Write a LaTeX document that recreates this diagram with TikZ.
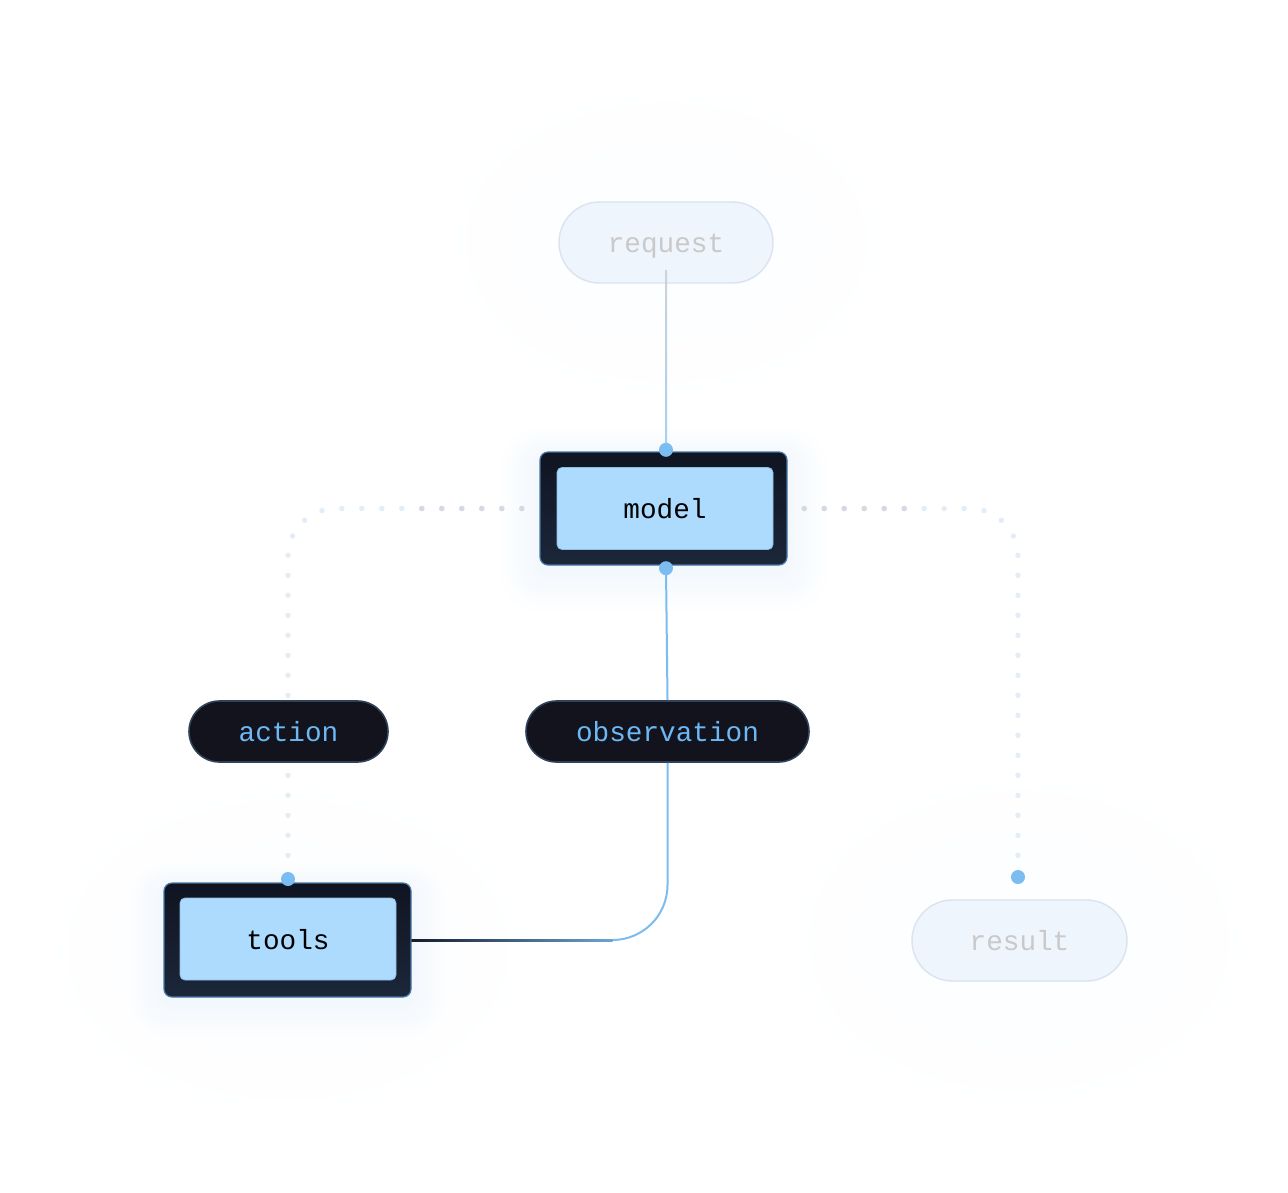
\documentclass[tikz,border=0pt]{standalone}
\usepackage{fontspec}
\setmonofont{Liberation Mono}
\usetikzlibrary{calc}
\definecolor{boxdark}{HTML}{141B2B}
\definecolor{boxtop}{HTML}{0F1421}
\definecolor{boxbot}{HTML}{1C273A}
\definecolor{boxedge}{HTML}{4576A6}
\definecolor{innerblue}{HTML}{ADDBFE}
\definecolor{innerEdge}{HTML}{8FBCE3}
\definecolor{pilldark}{HTML}{12131D}
\definecolor{pilledge}{HTML}{2F425A}
\definecolor{bluetext}{HTML}{6CB8F5}
\definecolor{dotblue}{HTML}{7BBDF0}
\definecolor{ghostfill}{HTML}{EEF5FD}
\definecolor{ghostedge}{HTML}{DAE3EE}
\definecolor{ghosttext}{HTML}{C9C9C9}
\definecolor{dotgray}{HTML}{D3DAE2}
\definecolor{dotlight}{HTML}{E3EDF8}
\definecolor{linegray}{HTML}{CFD2D7}
\definecolor{glowblue}{HTML}{A9CBF0}
\newcommand{\myglow}[2]{%
  \foreach \k in {10,...,1}{%
    \pgfmathsetmacro{\pc}{1+(10-\k)*1.4}%
    \fill[glowblue!\pc!white, rounded corners=#2+\k*3]
      ($(#1.south west)+(-\k*4,\k*4+6)$) rectangle ($(#1.north east)+(\k*4,-\k*3+6)$);
  }}
\newcommand{\myhalo}[3]{%
  \foreach \k in {6,...,1}{%
    \pgfmathsetmacro{\pc}{0.6+(6-\k)*0.25}%
    \fill[glowblue!\pc!white] (#1) ellipse ({#2+\k*10} and {#3+\k*10});
  }}
\tikzset{
  txt/.style={text height=22pt, text depth=2pt, font=\ttfamily\fontsize{27.7}{30}\selectfont},
  outerbox/.style={draw=boxedge, line width=1.2pt, top color=boxtop, bottom color=boxbot,
    rounded corners=8pt, minimum width=247pt, minimum height=113pt, inner sep=0pt},
  innerbox/.style={txt, draw=innerEdge, line width=0.8pt, fill=innerblue, rounded corners=5pt,
    minimum width=216pt, minimum height=82pt, inner sep=0pt, text=black},
  darkpill/.style={txt, draw=pilledge, line width=1.6pt, fill=pilldark, rounded corners=30.5pt,
    minimum height=61pt, inner sep=0pt, text=bluetext},
  ghostpill/.style={txt, draw=ghostedge, line width=1.4pt, fill=ghostfill, rounded corners=40.5pt,
    minimum width=214pt, minimum height=81pt, inner sep=0pt, text=ghosttext},
  portdot/.style={circle, fill=dotblue, minimum size=14pt, inner sep=0pt},
  dotline/.style={line width=5.5pt, line cap=round, dash pattern=on 0pt off 20pt, rounded corners=48pt},
  blueline/.style={draw=dotblue, line width=2pt, rounded corners=55pt},
}
\begin{document}
\begin{tikzpicture}[x=1pt,y=-1pt]
\useasboundingbox (0,0) rectangle (1288,1192);
\fill[white] (0,0) rectangle (1288,1192);

% coordinates for node centres
\coordinate (cReq) at (666,242.5);
\coordinate (cModel) at (663.5,508.5);
\coordinate (cTools) at (287.5,940);
\coordinate (cRes) at (1019.5,940.5);
\coordinate (cAct) at (288.5,731.5);
\coordinate (cObs) at (667.5,731.5);

% faint halos
\myhalo{cReq}{150}{90}
\myhalo{cRes}{160}{100}
\myhalo{$(cTools)+(0,10)$}{170}{100}

% placeholders for geometry
\path (cModel) node[minimum width=247pt, minimum height=113pt, inner sep=0pt] (modelG) {};
\path (cTools) node[minimum width=247pt, minimum height=114pt, inner sep=0pt] (toolsG) {};
\myglow{modelG}{10}
\myglow{toolsG}{10}

% ports
\coordinate (toolTop) at (288,879);
\coordinate (resTop) at (1018,877);

% dotted connectors
\draw[dotline, draw=dotlight, dash phase=2pt] (modelG.west) -| (toolTop);
\draw[dotline, draw=dotgray, dash phase=2pt, rounded corners=0pt] (modelG.west) -- ++(-130,0) coordinate (lgEnd);
\draw[dotline, draw=dotlight, dash phase=3pt] (modelG.east) -| (resTop);
\draw[dotline, draw=dotgray, dash phase=3pt, rounded corners=0pt] (modelG.east) -- ++(130,0) coordinate (rgEnd);

% ghost nodes
\node[ghostpill] (request) at (cReq) {request};
\node[ghostpill, minimum width=215pt] (result) at (cRes) {result};

% request -> model line (grey to blue)
\coordinate (mTop) at ($(modelG.north)+(2.5,-2)$);
\shade[top color=linegray, bottom color=dotblue!70] ($(request.center)+(-1,28)$) rectangle ($(mTop)+(1,0)$);

% model -> observation -> tools
\coordinate (mBot) at ($(modelG.south)+(2.5,3)$);
\node[darkpill, minimum width=283pt] (obs) at (cObs) {observation};
\node[darkpill, minimum width=199pt] (action) at (cAct) {action};
\draw[blueline] (mBot) -- (obs.north);
\draw[blueline] (obs.south) |- (toolsG.east);
\shade[left color=boxdark, right color=dotblue!85!boxdark]
  ($(toolsG.east)+(0,-1)$) rectangle ($(obs.south |- toolsG.east)+(-55,1)$);

% main boxes
\node[outerbox] (model) at (cModel) {};
\node[innerbox] (modelin) at ($(model.center)+(1.5,0)$) {model};
\node[outerbox, minimum height=114pt] (tools) at (cTools) {};
\node[innerbox] (toolsin) at ($(tools.center)+(0.5,-1)$) {tools};

% port dots
\node[portdot] (dMt) at (mTop) {};
\node[portdot] (dMb) at (mBot) {};
\node[portdot] (dTt) at (toolTop) {};
\node[portdot] (dRt) at (resTop) {};
\end{tikzpicture}
\end{document}
